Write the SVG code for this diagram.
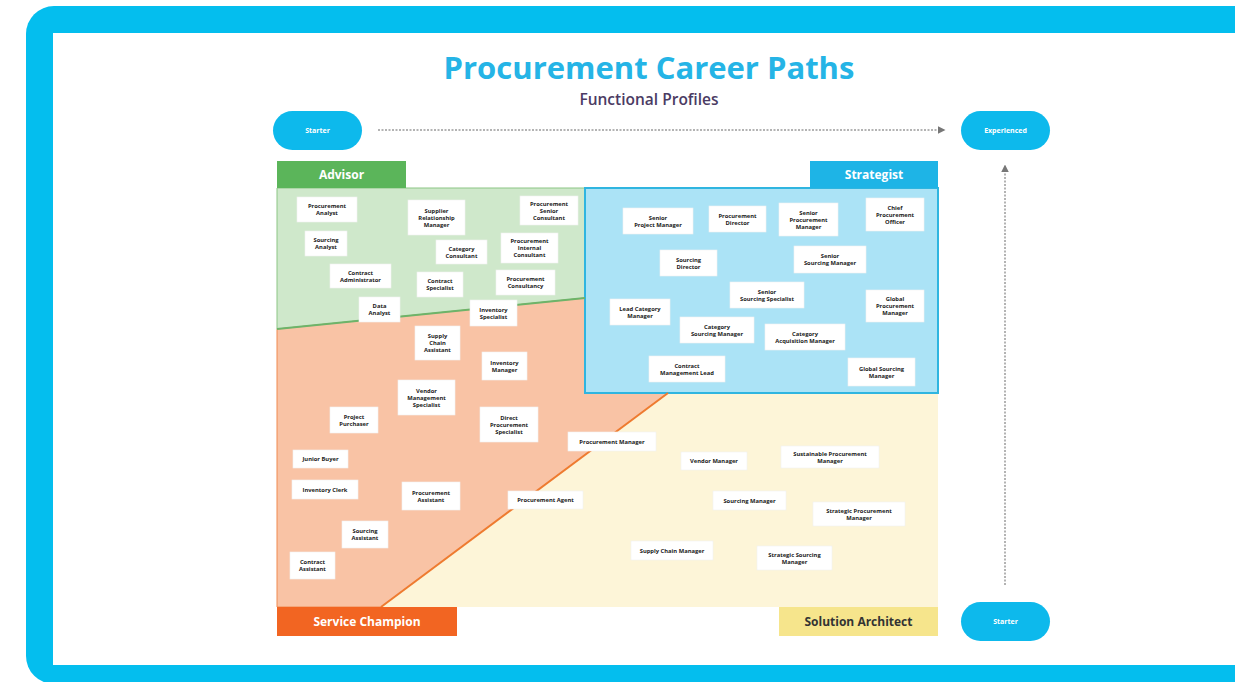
<svg xmlns="http://www.w3.org/2000/svg" width="1235" height="682" viewBox="0 0 1235 682">
<defs>
<style>
.box{fill:#fff;stroke:#f0f0f0;stroke-width:0.6}
.n{font-family:"Open Sans","Liberation Sans",sans-serif;font-weight:700;font-size:5.8px;fill:#1a1a1a;text-anchor:middle}
.pill{fill:#0DB9EC}
.pt{font-family:"Open Sans","Liberation Sans",sans-serif;font-weight:700;font-size:7px;fill:#fff;text-anchor:middle}
.tab{font-family:"Open Sans","Liberation Sans",sans-serif;font-weight:700;font-size:12px;text-anchor:middle}
.arr{stroke:#9a9a9a;stroke-width:1.5;stroke-dasharray:2 1.5;fill:none}
</style>
<marker id="ah" viewBox="0 0 10 10" refX="8" refY="5" markerWidth="5" markerHeight="5" orient="auto">
<path d="M0,0 L10,5 L0,10 z" fill="#777"/>
</marker>
</defs>
<rect x="26" y="6" width="1260" height="678" rx="28" fill="#04BEEE"/>
<rect x="53" y="33" width="1200" height="632" fill="#fff"/>
<text x="649" y="79" font-family="'Open Sans','Liberation Sans',sans-serif" font-weight="700" font-size="31" fill="#25B4E6" text-anchor="middle">Procurement Career Paths</text>
<text x="649" y="105" font-family="'Open Sans','Liberation Sans',sans-serif" font-weight="600" font-size="15.5" fill="#4B3B63" text-anchor="middle">Functional Profiles</text>

<g id="regions">
<polygon points="277,188 585,188 585,298 277,329" fill="#CFE8CB" stroke="#8CC585" stroke-width="1"/>
<polygon points="277,329 585,298 585,393 668,393 381,607 277,607" fill="#F9C3A5" stroke="#F08A50" stroke-width="1"/>
<polygon points="668,393 938,393 938,607 381,607" fill="#FDF5D8"/>
<rect x="585" y="188" width="353" height="205" fill="#ABE3F6" stroke="#2FB5E0" stroke-width="2"/>
<line x1="277" y1="329" x2="585" y2="298" stroke="#6DB46A" stroke-width="2"/>
<line x1="668" y1="393" x2="381" y2="607" stroke="#EE7B30" stroke-width="2"/>
</g>

<g id="tabs">
<g id="tab-advisor"><rect x="277" y="161" width="129" height="27" fill="#5BB55A"/><text class="tab" x="341.5" y="179" fill="#fff" font-size="11">Advisor</text></g>
<g id="tab-strategist"><rect x="810" y="161" width="128" height="27" fill="#1EB4E6"/><text class="tab" x="874" y="179" fill="#fff" font-size="11">Strategist</text></g>
<g id="tab-service"><rect x="277" y="607" width="180" height="29" fill="#F26522"/><text class="tab" x="367" y="626" fill="#fff">Service Champion</text></g>
<g id="tab-solution"><rect x="779" y="607" width="159" height="29" fill="#F6E58C"/><text class="tab" x="858.5" y="626" fill="#333">Solution Architect</text></g>
</g>

<g id="connectors">
<line class="arr" x1="378" y1="130" x2="944" y2="130" marker-end="url(#ah)"/>
<line class="arr" x1="1005" y1="585" x2="1005" y2="166" marker-end="url(#ah)"/>
</g>

<g id="pill-starter-top"><rect class="pill" x="273" y="111" width="89" height="39" rx="19.5"/><text class="pt" x="317.5" y="133">Starter</text></g>
<g id="pill-experienced"><rect class="pill" x="961" y="111" width="89" height="39" rx="19.5"/><text class="pt" x="1005.5" y="133">Experienced</text></g>
<g id="pill-starter-bottom"><rect class="pill" x="961" y="602" width="89" height="39" rx="19.5"/><text class="pt" x="1005.5" y="624">Starter</text></g>

<g id="n1"><rect class="box" x="297" y="197" width="60" height="25"/><text class="n"><tspan x="327" y="208">Procurement</tspan><tspan x="327" y="215">Analyst</tspan></text></g>
<g id="n2"><rect class="box" x="305" y="231" width="42" height="25"/><text class="n"><tspan x="326" y="242">Sourcing</tspan><tspan x="326" y="249">Analyst</tspan></text></g>
<g id="n3"><rect class="box" x="330" y="264" width="61" height="24"/><text class="n"><tspan x="360.5" y="274.5">Contract</tspan><tspan x="360.5" y="281.5">Administrator</tspan></text></g>
<g id="n4"><rect class="box" x="359" y="297" width="41" height="25"/><text class="n"><tspan x="379.5" y="308">Data</tspan><tspan x="379.5" y="315">Analyst</tspan></text></g>
<g id="n5"><rect class="box" x="408" y="200" width="57" height="35"/><text class="n"><tspan x="436.5" y="212.5">Supplier</tspan><tspan x="436.5" y="219.5">Relationship</tspan><tspan x="436.5" y="226.5">Manager</tspan></text></g>
<g id="n6"><rect class="box" x="436" y="240" width="51" height="24"/><text class="n"><tspan x="461.5" y="250.5">Category</tspan><tspan x="461.5" y="257.5">Consultant</tspan></text></g>
<g id="n7"><rect class="box" x="417" y="272" width="46" height="25"/><text class="n"><tspan x="440" y="283">Contract</tspan><tspan x="440" y="290">Specialist</tspan></text></g>
<g id="n8"><rect class="box" x="520" y="196" width="58" height="29"/><text class="n"><tspan x="549" y="205.5">Procurement</tspan><tspan x="549" y="212.5">Senior</tspan><tspan x="549" y="219.5">Consultant</tspan></text></g>
<g id="n9"><rect class="box" x="501" y="233" width="57" height="30"/><text class="n"><tspan x="529.5" y="243">Procurement</tspan><tspan x="529.5" y="250">Internal</tspan><tspan x="529.5" y="257">Consultant</tspan></text></g>
<g id="n10"><rect class="box" x="496" y="270" width="59" height="25"/><text class="n"><tspan x="525.5" y="281">Procurement</tspan><tspan x="525.5" y="288">Consultancy</tspan></text></g>
<g id="n11"><rect class="box" x="470" y="300" width="47" height="26"/><text class="n"><tspan x="493.5" y="311.5">Inventory</tspan><tspan x="493.5" y="318.5">Specialist</tspan></text></g>
<g id="n12"><rect class="box" x="415" y="326" width="45" height="34"/><text class="n"><tspan x="437.5" y="338">Supply</tspan><tspan x="437.5" y="345">Chain</tspan><tspan x="437.5" y="352">Assistant</tspan></text></g>
<g id="n13"><rect class="box" x="482" y="352" width="45" height="28"/><text class="n"><tspan x="504.5" y="364.5">Inventory</tspan><tspan x="504.5" y="371.5">Manager</tspan></text></g>
<g id="n14"><rect class="box" x="398" y="380" width="57" height="35"/><text class="n"><tspan x="426.5" y="392.5">Vendor</tspan><tspan x="426.5" y="399.5">Management</tspan><tspan x="426.5" y="406.5">Specialist</tspan></text></g>
<g id="n15"><rect class="box" x="330" y="407" width="48" height="26"/><text class="n"><tspan x="354" y="418.5">Project</tspan><tspan x="354" y="425.5">Purchaser</tspan></text></g>
<g id="n16"><rect class="box" x="480" y="407" width="58" height="35"/><text class="n"><tspan x="509" y="419.5">Direct</tspan><tspan x="509" y="426.5">Procurement</tspan><tspan x="509" y="433.5">Specialist</tspan></text></g>
<g id="n17"><rect class="box" x="293" y="450" width="55" height="18"/><text class="n" x="320.5" y="461">Junior Buyer</text></g>
<g id="n18"><rect class="box" x="292" y="480" width="66" height="19"/><text class="n" x="325" y="491.5">Inventory Clerk</text></g>
<g id="n19"><rect class="box" x="402" y="482" width="58" height="28"/><text class="n"><tspan x="431" y="494.5">Procurement</tspan><tspan x="431" y="501.5">Assistant</tspan></text></g>
<g id="n20"><rect class="box" x="342" y="521" width="46" height="27"/><text class="n"><tspan x="365" y="533">Sourcing</tspan><tspan x="365" y="540">Assistant</tspan></text></g>
<g id="n21"><rect class="box" x="290" y="552" width="45" height="27"/><text class="n"><tspan x="312.5" y="564">Contract</tspan><tspan x="312.5" y="571">Assistant</tspan></text></g>
<g id="n22"><rect class="box" x="508" y="491" width="75" height="18"/><text class="n" x="545.5" y="502">Procurement Agent</text></g>
<g id="n23"><rect class="box" x="568" y="432" width="88" height="19"/><text class="n" x="612" y="443.5">Procurement Manager</text></g>
<g id="n24"><rect class="box" x="681" y="452" width="66" height="18"/><text class="n" x="714" y="463">Vendor Manager</text></g>
<g id="n25"><rect class="box" x="781" y="446" width="98" height="22"/><text class="n"><tspan x="830" y="455.5">Sustainable Procurement</tspan><tspan x="830" y="462.5">Manager</tspan></text></g>
<g id="n26"><rect class="box" x="713" y="491" width="73" height="19"/><text class="n" x="749.5" y="502.5">Sourcing Manager</text></g>
<g id="n27"><rect class="box" x="813" y="502" width="92" height="24"/><text class="n"><tspan x="859" y="512.5">Strategic Procurement</tspan><tspan x="859" y="519.5">Manager</tspan></text></g>
<g id="n28"><rect class="box" x="631" y="541" width="82" height="19"/><text class="n" x="672" y="552.5">Supply Chain Manager</text></g>
<g id="n29"><rect class="box" x="757" y="546" width="75" height="24"/><text class="n"><tspan x="794.5" y="556.5">Strategic Sourcing</tspan><tspan x="794.5" y="563.5">Manager</tspan></text></g>
<g id="n30"><rect class="box" x="623" y="208" width="70" height="26"/><text class="n"><tspan x="658" y="219.5">Senior</tspan><tspan x="658" y="226.5">Project Manager</tspan></text></g>
<g id="n31"><rect class="box" x="709" y="206" width="57" height="26"/><text class="n"><tspan x="737.5" y="217.5">Procurement</tspan><tspan x="737.5" y="224.5">Director</tspan></text></g>
<g id="n32"><rect class="box" x="779" y="203" width="59" height="33"/><text class="n"><tspan x="808.5" y="214.5">Senior</tspan><tspan x="808.5" y="221.5">Procurement</tspan><tspan x="808.5" y="228.5">Manager</tspan></text></g>
<g id="n33"><rect class="box" x="866" y="198" width="58" height="33"/><text class="n"><tspan x="895" y="209.5">Chief</tspan><tspan x="895" y="216.5">Procurement</tspan><tspan x="895" y="223.5">Officer</tspan></text></g>
<g id="n34"><rect class="box" x="660" y="250" width="57" height="26"/><text class="n"><tspan x="688.5" y="261.5">Sourcing</tspan><tspan x="688.5" y="268.5">Director</tspan></text></g>
<g id="n35"><rect class="box" x="794" y="246" width="72" height="27"/><text class="n"><tspan x="830" y="258">Senior</tspan><tspan x="830" y="265">Sourcing Manager</tspan></text></g>
<g id="n36"><rect class="box" x="730" y="282" width="74" height="26"/><text class="n"><tspan x="767" y="293.5">Senior</tspan><tspan x="767" y="300.5">Sourcing Specialist</tspan></text></g>
<g id="n37"><rect class="box" x="866" y="290" width="58" height="32"/><text class="n"><tspan x="895" y="301">Global</tspan><tspan x="895" y="308">Procurement</tspan><tspan x="895" y="315">Manager</tspan></text></g>
<g id="n38"><rect class="box" x="610" y="299" width="60" height="26"/><text class="n"><tspan x="640" y="310.5">Lead Category</tspan><tspan x="640" y="317.5">Manager</tspan></text></g>
<g id="n39"><rect class="box" x="680" y="317" width="74" height="26"/><text class="n"><tspan x="717" y="328.5">Category</tspan><tspan x="717" y="335.5">Sourcing Manager</tspan></text></g>
<g id="n40"><rect class="box" x="765" y="324" width="80" height="26"/><text class="n"><tspan x="805" y="335.5">Category</tspan><tspan x="805" y="342.5">Acquisition Manager</tspan></text></g>
<g id="n41"><rect class="box" x="649" y="356" width="76" height="26"/><text class="n"><tspan x="687" y="367.5">Contract</tspan><tspan x="687" y="374.5">Management Lead</tspan></text></g>
<g id="n42"><rect class="box" x="848" y="358" width="67" height="28"/><text class="n"><tspan x="881.5" y="370.5">Global Sourcing</tspan><tspan x="881.5" y="377.5">Manager</tspan></text></g>
</svg>
